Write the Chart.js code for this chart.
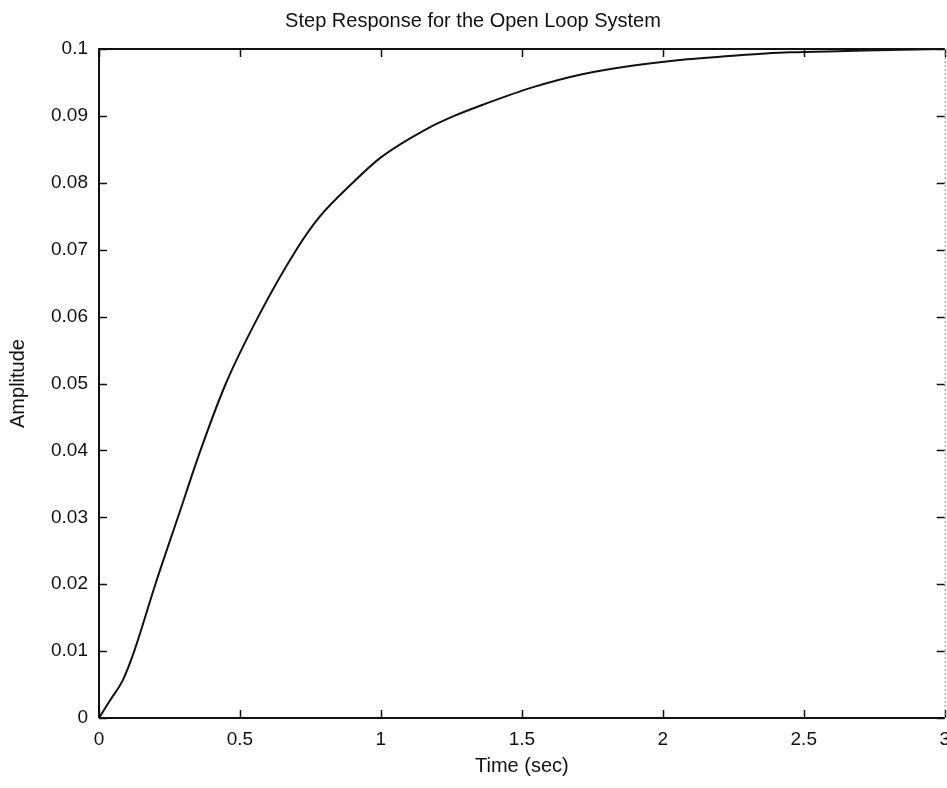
<!DOCTYPE html>
<html>
<head>
<meta charset="utf-8">
<title>Step Response for the Open Loop System</title>
<script src="https://cdn.jsdelivr.net/npm/chart.js@4/dist/chart.umd.min.js"></script>
<style>
  html, body { margin: 0; padding: 0; background: #fff; overflow: hidden; }
  #wrap { width: 960px; height: 788px; }
</style>
</head>
<body>
<div id="wrap"><canvas id="c" width="960" height="788"></canvas></div>
<script>
// Step response samples: time (s) and amplitude
const timeSec = [0, 0.04, 0.085, 0.125, 0.2, 0.28, 0.36, 0.45, 0.565, 0.70, 0.78, 0.9, 1.0, 1.16, 1.26, 1.37, 1.54, 1.71, 1.89, 2.07, 2.25, 2.45, 2.65, 2.85, 3.0];
const amplitude = [0, 0.0027, 0.0057, 0.0100, 0.0200, 0.0300, 0.0400, 0.0500, 0.0600, 0.0700, 0.0748, 0.0800, 0.0838, 0.0880, 0.0900, 0.0918, 0.0943, 0.0962, 0.0975, 0.0984, 0.0990, 0.0995, 0.0997, 0.0999, 0.1000];

// Axis ticks
const xTickValues = [0, 0.5, 1, 1.5, 2, 2.5, 3];
const xTickLabels = ['0', '0.5', '1', '1.5', '2', '2.5', '3'];
const yTickValues = [0, 0.01, 0.02, 0.03, 0.04, 0.05, 0.06, 0.07, 0.08, 0.09, 0.1];
const yTickLabels = ['0', '0.01', '0.02', '0.03', '0.04', '0.05', '0.06', '0.07', '0.08', '0.09', '0.1'];

const FONT = '"Liberation Sans", Arial, Helvetica, sans-serif';
const INK = '#111';

// Axes box with inward-pointing tick marks on all four sides
const boxAndTicks = {
  id: 'boxAndTicks',
  afterDatasetsDraw(chart) {
    const { ctx, chartArea: a, scales: { x, y } } = chart;
    const len = 8;
    ctx.save();
    ctx.strokeStyle = INK;
    ctx.lineWidth = 2;
    ctx.beginPath();
    ctx.moveTo(a.left, a.bottom); ctx.lineTo(a.left, a.top); ctx.lineTo(a.right, a.top);
    ctx.moveTo(a.left, a.bottom); ctx.lineTo(a.right, a.bottom);
    ctx.stroke();
    ctx.beginPath();
    x.ticks.forEach(t => {
      const px = Math.round(x.getPixelForValue(t.value)) + 0.5;
      ctx.moveTo(px, a.bottom); ctx.lineTo(px, a.bottom - len);
      ctx.moveTo(px, a.top); ctx.lineTo(px, a.top + len);
    });
    y.ticks.forEach(t => {
      const py = Math.round(y.getPixelForValue(t.value)) + 0.5;
      ctx.moveTo(a.left, py); ctx.lineTo(a.left + len, py);
      ctx.moveTo(a.right, py); ctx.lineTo(a.right - len, py);
    });
    ctx.lineWidth = 1.5;
    ctx.stroke();
    // right edge is faint
    ctx.strokeStyle = '#888';
    ctx.lineWidth = 1;
    ctx.setLineDash([2, 2]);
    ctx.beginPath();
    ctx.moveTo(a.right + 0.5, a.top); ctx.lineTo(a.right + 0.5, a.bottom);
    ctx.stroke();
    ctx.restore();
  }
};

new Chart(document.getElementById('c'), {
  type: 'line',
  data: {
    datasets: [{
      data: timeSec.map((t, i) => ({ x: t, y: amplitude[i] })),
      borderColor: INK,
      borderWidth: 2,
      pointRadius: 0,
      fill: false,
      cubicInterpolationMode: 'monotone'
    }]
  },
  options: {
    responsive: false,
    animation: false,
    devicePixelRatio: 1,
    layout: { padding: { left: 0, right: 14, top: 0, bottom: 0 } },
    plugins: {
      legend: { display: false },
      tooltip: { enabled: false },
      title: {
        display: true,
        text: 'Step Response for the Open Loop System',
        color: INK,
        font: { family: FONT, size: 20, weight: 'normal' },
        padding: { top: 9, bottom: 16 }
      }
    },
    scales: {
      x: {
        type: 'linear',
        min: 0, max: 3,
        afterBuildTicks(s) { s.ticks = xTickValues.map(v => ({ value: v })); },
        afterFit(s) { s.height = 70; },
        grid: { display: false, drawTicks: false },
        border: { display: false },
        ticks: {
          color: INK,
          padding: 10,
          maxRotation: 0,
          font: { family: FONT, size: 19 },
          callback: (v) => xTickLabels[xTickValues.indexOf(v)]
        },
        title: {
          display: true,
          text: 'Time (sec)',
          color: INK,
          font: { family: FONT, size: 20 },
          padding: { top: 0, bottom: 10 }
        }
      },
      y: {
        type: 'linear',
        min: 0, max: 0.1,
        afterBuildTicks(s) { s.ticks = yTickValues.map(v => ({ value: v })); },
        afterFit(s) { s.width = 99; },
        grid: { display: false, drawTicks: false },
        border: { display: false },
        ticks: {
          color: INK,
          padding: 11,
          font: { family: FONT, size: 19 },
          callback: (v) => yTickLabels[yTickValues.indexOf(v)]
        },
        title: {
          display: true,
          text: 'Amplitude',
          color: INK,
          font: { family: FONT, size: 20 },
          padding: { top: 6, bottom: 0 }
        }
      }
    }
  },
  plugins: [boxAndTicks]
});
</script>
</body>
</html>
